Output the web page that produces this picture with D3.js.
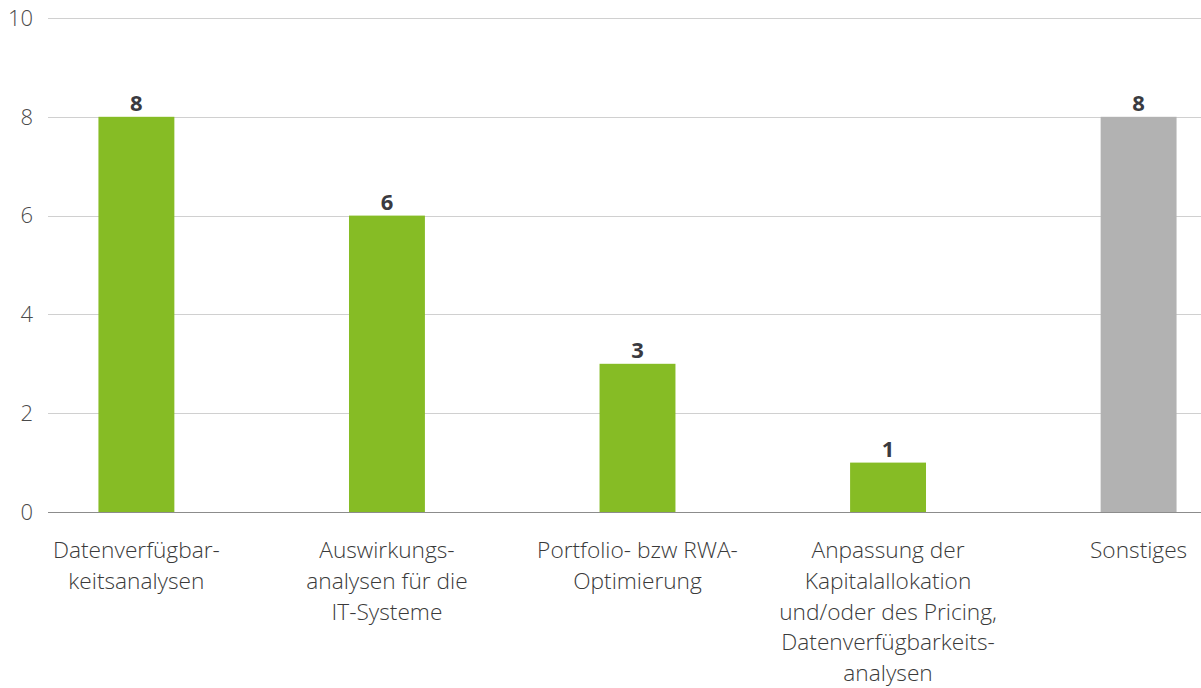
<!DOCTYPE html>
<html>
<head>
<meta charset="utf-8">
<script src="https://cdn.jsdelivr.net/npm/d3@7"></script>
<style>
  body { margin: 0; background: #fff; }
  text { font-family: "Open Sans", sans-serif; }
</style>
</head>
<body>
<div id="chart"></div>
<script>
// chart data
const categories = [
  ["Datenverfügbar-", "keitsanalysen"],
  ["Auswirkungs-", "analysen für die", "IT-Systeme"],
  ["Portfolio- bzw RWA-", "Optimierung"],
  ["Anpassung der", "Kapitalallokation", "und/oder des Pricing,", "Datenverfügbarkeits-", "analysen"],
  ["Sonstiges"]
];
const values = [8, 6, 3, 1, 8];
const barColors = ["#86bc25", "#86bc25", "#86bc25", "#86bc25", "#b2b2b2"];
const yTicks = [0, 2, 4, 6, 8, 10];

const width = 1201, height = 688;
const gridLeft = 48;

const svg = d3.select("#chart").append("svg")
  .attr("width", width)
  .attr("height", height);

const y = d3.scaleLinear().domain([0, 10]).range([512, 18]);
const x = d3.scaleBand()
  .domain(d3.range(values.length))
  .range([11, 1264])
  .paddingInner(0.697)
  .paddingOuter(0.349);

// gridlines
svg.selectAll("line.grid")
  .data(yTicks)
  .enter().append("line")
  .attr("class", "grid")
  .attr("x1", gridLeft)
  .attr("x2", width)
  .attr("y1", d => Math.round(y(d)) + 0.5)
  .attr("y2", d => Math.round(y(d)) + 0.5)
  .style("stroke", d => d === 0 ? "#8c8c8c" : "#d0d0d0")
  .style("stroke-width", 1);

// y labels
svg.selectAll("text.ylab")
  .data(yTicks)
  .enter().append("text")
  .attr("class", "ylab")
  .attr("x", 33)
  .attr("y", d => y(d))
  .attr("dy", "0.35em")
  .attr("text-anchor", "end")
  .style("font-size", "22px")
  .style("font-weight", 300)
  .style("fill", "#4a4a4a")
  .text(d => d);

// bars
svg.selectAll("rect.bar")
  .data(values)
  .enter().append("rect")
  .attr("class", "bar")
  .attr("x", (d, i) => x(i))
  .attr("y", d => y(d))
  .attr("width", x.bandwidth())
  .attr("height", d => y(0) - y(d))
  .style("fill", (d, i) => barColors[i]);

// value labels
svg.selectAll("text.val")
  .data(values)
  .enter().append("text")
  .attr("class", "val")
  .attr("x", (d, i) => x(i) + x.bandwidth() / 2)
  .attr("y", d => y(d) - 6)
  .attr("text-anchor", "middle")
  .style("font-size", "22px")
  .style("font-weight", 700)
  .style("fill", "#3a3a40")
  .text(d => d);

// category labels
const cat = svg.selectAll("text.cat")
  .data(categories)
  .enter().append("text")
  .attr("class", "cat")
  .attr("x", (d, i) => x(i) + x.bandwidth() / 2)
  .attr("y", 558)
  .attr("text-anchor", "middle")
  .style("font-size", "22.7px")
  .style("font-weight", 300)
  .style("fill", "#3a3a3a");

cat.each(function(lines, i) {
  const cx = x(i) + x.bandwidth() / 2;
  d3.select(this).selectAll("tspan")
    .data(lines)
    .enter().append("tspan")
    .attr("x", cx)
    .attr("dy", (l, j) => j === 0 ? 0 : 30.8)
    .text(l => l);
});
</script>
</body>
</html>
